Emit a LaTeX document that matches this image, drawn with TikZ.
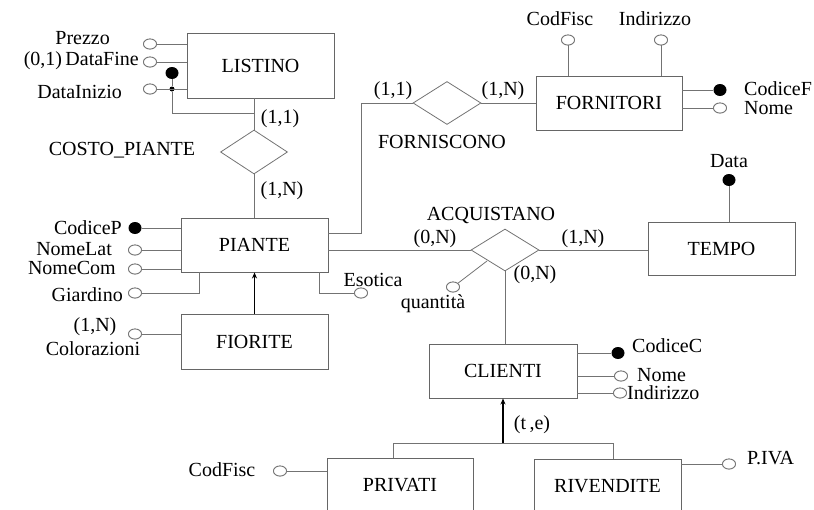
\documentclass[tikz,border=0pt]{standalone}
\usepackage{fontspec}
\setmainfont{Liberation Serif}
\usetikzlibrary{shapes.geometric,arrows.meta}
\begin{document}
\begin{tikzpicture}[x=1pt,y=-1pt,
 every node/.style={font=\fontsize{20}{24}\selectfont, inner sep=0pt},
 ln/.style={draw=black!55, line width=0.8pt},
 entity/.style={draw=black!60, line width=0.9pt, rectangle, minimum width=147pt, minimum height=54pt},
 rel/.style={draw=black!55, line width=0.8pt, diamond, minimum width=68pt, minimum height=43pt},
 attr/.style={draw=black!55, line width=0.8pt, ellipse, minimum width=13pt, minimum height=10pt, fill=white},
 keyattr/.style={fill=black, ellipse, minimum width=13pt, minimum height=12pt},
 isa/.style={line width=1.6pt, -{Stealth[length=6pt,width=5pt]}},
]
\useasboundingbox (0,0) rectangle (814,509);

% entities
\node[entity, minimum height=65pt] (listino) at (260.5,65.5) {LISTINO};
\node[entity] (piante) at (254.5,245) {PIANTE};
\node[entity, minimum height=55pt] (fiorite) at (254.5,341.5) {FIORITE};
\node[entity, minimum width=146pt] (fornitori) at (609,103) {FORNITORI};
\node[entity, minimum height=53pt] (tempo) at (721.5,248.5) {TEMPO};
\node[entity, minimum width=148pt] (clienti) at (503,371) {CLIENTI};
\node[entity, minimum width=146pt] (privati) at (400,485) {PRIVATI};
\node[entity] (rivendite) at (607.5,486) {RIVENDITE};

% relationships
\node[rel, minimum width=67pt, minimum height=44pt] (costo) at (254,152) {};
\node[rel] (forn) at (447,103) {};
\node[rel, minimum height=42pt] (acq) at (505,250) {};

% relationship labels
\node (lcosto) at (122,150) {COSTO\_PIANTE};
\node (lforn) at (442,142) {FORNISCONO};
\node (lacq) at (491,215) {ACQUISTANO};

% cardinalities
\node (c1) at (280,119) {(1,1)};
\node (c2) at (282,191) {(1,N)};
\node (c3) at (393,91) {(1,1)};
\node (c4) at (503,91) {(1,N)};
\node (c5) at (435,239) {(0,N)};
\node (c6) at (583,239) {(1,N)};
\node (c7) at (535,275) {(0,N)};
\node (c8) at (532,425) {(t\,,e)};

% LISTINO attributes
\node[attr] (aPrezzo) at (150,44) {};
\node[attr] (aDataFine) at (150,62) {};
\node[attr] (aDataInizio) at (150,89) {};
\node[keyattr] (kListino) at (172,73) {};
\node[fill=black, circle, minimum size=5pt] (sdot) at (172,89) {};
\coordinate (jn) at (172,113);
\node[anchor=east] (tPrezzo) at (110,38) {Prezzo};
\node[anchor=east] (tDataFine) at (139,61) {(0,1)\,DataFine};
\node[anchor=east] (tDataInizio) at (122,92) {DataInizio};

% PIANTE attributes
\node[keyattr] (kCodiceP) at (135,228) {};
\node[attr] (aNomeLat) at (135,250) {};
\node[attr] (aNomeCom) at (135,269) {};
\node[attr] (aGiardino) at (135,293) {};
\node[attr] (aEsotica) at (361,293) {};
\coordinate (gj) at (199,293);
\coordinate (ej) at (319,293);
\node[anchor=east] (tCodiceP) at (122,228) {CodiceP};
\node[anchor=east] (tNomeLat) at (112,249) {NomeLat};
\node[anchor=east] (tNomeCom) at (116,268) {NomeCom};
\node[anchor=east] (tGiardino) at (123,295) {Giardino};
\node (tEsotica) at (373,280) {Esotica};

% FIORITE attribute
\node[attr] (aColor) at (135,334) {};
\node (tColor1) at (95,327) {(1,N)};
\node (tColor2) at (93,349) {Colorazioni};

% FORNITORI attributes
\node[attr] (aCodFiscF) at (568,40) {};
\node[attr] (aIndF) at (661,40) {};
\node[keyattr] (kCodiceF) at (720,90) {};
\node[attr] (aNomeF) at (720,108) {};
\node (tCodFiscF) at (560,19) {CodFisc};
\node (tIndF) at (655,19) {Indirizzo};
\node[anchor=west] (tCodiceF) at (744,89) {CodiceF};
\node[anchor=west] (tNomeF) at (744,108) {Nome};

% TEMPO attribute
\node[keyattr] (kData) at (729,180) {};
\node (tData) at (729,161) {Data};

% ACQUISTANO attribute
\node[attr] (aQuant) at (453,287) {};
\coordinate (qj) at (487,261);
\node (tQuant) at (433,304) {quantità};

% CLIENTI attributes
\node[keyattr] (kCodiceC) at (618,353) {};
\node[attr] (aNomeC) at (621,376) {};
\node[attr] (aIndC) at (620,393) {};
\node[anchor=west] (tCodiceC) at (632,346) {CodiceC};
\node[anchor=west] (tNomeC) at (637,375) {Nome};
\node[anchor=west] (tIndC) at (627,393) {Indirizzo};

% PRIVATI / RIVENDITE attributes
\node[attr] (aCodFiscP) at (280,471) {};
\node (tCodFiscP) at (222,470) {CodFisc};
\node[attr] (aPIVA) at (729,464) {};
\node[anchor=west] (tPIVA) at (747,458) {P.IVA};

% hierarchy coordinates
\coordinate (hb) at (503,443);
\coordinate (hl) at (393,443);
\coordinate (hr) at (613,443);
\coordinate (fj) at (361,233);

% connectors
\begin{scope}[on background layer/.style={}]
\draw[ln] (aPrezzo) -- (aPrezzo -| listino.west);
\draw[ln] (aDataFine) -- (aDataFine -| listino.west);
\draw[ln] (aDataInizio) -- (aDataInizio -| listino.west);
\draw[ln] (kListino) -- (sdot) -- (jn) -- (jn -| costo.north);
\draw[ln] (listino.south -| costo.north) -- (costo.north);
\draw[ln] (costo.south) -- (costo.south |- piante.north);

\draw[ln] (kCodiceP) -- (kCodiceP -| piante.west);
\draw[ln] (aNomeLat) -- (aNomeLat -| piante.west);
\draw[ln] (aNomeCom) -- (aNomeCom -| piante.west);
\draw[ln] (aGiardino) -- (gj) -- (gj |- piante.south);
\draw[ln] (aEsotica) -- (ej) -- (ej |- piante.south);
\draw[ln] (aColor) -- (aColor -| fiorite.west);

\draw[ln] (fj -| piante.east) -- (fj) -- (fj |- forn.west) -- (forn.west);
\draw[ln] (forn.east) -- (forn.east -| fornitori.west);
\draw[ln] (aCodFiscF) -- (aCodFiscF |- fornitori.north);
\draw[ln] (aIndF) -- (aIndF |- fornitori.north);
\draw[ln] (kCodiceF) -- (kCodiceF -| fornitori.east);
\draw[ln] (aNomeF) -- (aNomeF -| fornitori.east);

\draw[ln] (acq.west) -- (acq.west -| piante.east);
\draw[ln] (acq.east) -- (acq.east -| tempo.west);
\draw[ln] (acq.south) -- (acq.south |- clienti.north);
\draw[ln] (qj) -- (aQuant);
\draw[ln] (kData) -- (kData |- tempo.north);

\draw[ln] (kCodiceC) -- (kCodiceC -| clienti.east);
\draw[ln] (aNomeC) -- (aNomeC -| clienti.east);
\draw[ln] (aIndC) -- (aIndC -| clienti.east);

\draw[ln] (hl |- privati.north) -- (hl) -- (hr) -- (hr |- rivendite.north);
\draw[ln] (aCodFiscP) -- (aCodFiscP -| privati.west);
\draw[ln] (aPIVA) -- (aPIVA -| rivendite.east);
\end{scope}

\draw[isa] (fiorite.north) -- (piante.south);
\draw[isa] (hb) -- (clienti.south);

% redraw attribute circles on top of lines
\foreach \n in {aPrezzo,aDataFine,aDataInizio,aNomeLat,aNomeCom,aGiardino,aEsotica,aColor,aCodFiscF,aIndF,aNomeF,aQuant,aNomeC,aIndC,aCodFiscP,aPIVA}
  \draw[draw=black!55, line width=0.8pt, fill=white] (\n.center) ellipse (6.5pt and 5pt);
\end{tikzpicture}
\end{document}
